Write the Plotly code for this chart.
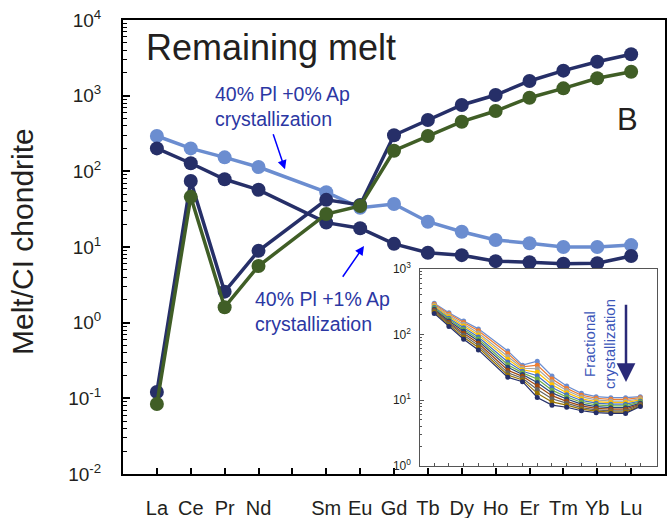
import plotly.graph_objects as go

# ---------------- data ----------------
elements = ["La", "Ce", "Pr", "Nd", "Pm", "Sm", "Eu", "Gd", "Tb", "Dy", "Ho", "Er", "Tm", "Yb", "Lu"]
tick_labels = ["La", "Ce", "Pr", "Nd", "", "Sm", "Eu", "Gd", "Tb", "Dy", "Ho", "Er", "Tm", "Yb", "Lu"]
ree = ["La", "Ce", "Pr", "Nd", "Sm", "Eu", "Gd", "Tb", "Dy", "Ho", "Er", "Tm", "Yb", "Lu"]

melt_0ap = [293, 201, 153, 114, 53, 33, 37, 21.6, 15.9, 12.4, 11.2, 10.0, 10.0, 10.6]
melt_1ap = [201, 128, 78.5, 57, 21, 17.7, 11, 8.4, 7.8, 6.5, 6.3, 6.0, 6.1, 7.6]
cumulate_a = [0.121, 74.5, 2.57, 8.9, 42, 36, 300, 476, 753, 1020, 1563, 2140, 2810, 3520]
cumulate_b = [0.084, 46, 1.6, 5.6, 27.3, 34.8, 187, 293, 453, 627, 940, 1250, 1700, 2075]

y_tick_vals = [0.01, 0.1, 1, 10, 100, 1000, 10000]
y_tick_text = ["10<sup>-2</sup>", "10<sup>-1</sup>", "10<sup>0</sup>", "10<sup>1</sup>",
               "10<sup>2</sup>", "10<sup>3</sup>", "10<sup>4</sup>"]
inset_tick_vals = [1, 10, 100, 1000]
inset_tick_text = ["10<sup>0</sup>", "10<sup>1</sup>", "10<sup>2</sup>", "10<sup>3</sup>"]

inset_series = [
    [296, 213, 160, 121, 56, 34, 39, 23.3, 16.4, 12.7, 11.3, 10.9, 10.9, 11.3],
    [286, 203, 151, 113, 51, 32, 34, 21.0, 15.1, 11.9, 10.7, 10.3, 10.3, 10.9],
    [276, 194, 142, 105, 46, 30.5, 30, 19.0, 14.0, 11.2, 10.1, 9.7, 9.7, 10.5],
    [267, 185, 134, 98, 42, 29, 26.5, 17.2, 13.0, 10.5, 9.5, 9.2, 9.2, 10.1],
    [258, 176, 126, 91, 38, 27.5, 23.5, 15.6, 12.1, 9.9, 9.0, 8.7, 8.7, 9.7],
    [250, 168, 118, 85, 34.5, 26, 21, 14.2, 11.2, 9.3, 8.5, 8.2, 8.2, 9.4],
    [241, 160, 111, 79, 31.5, 24.5, 18.5, 12.9, 10.4, 8.7, 8.0, 7.7, 7.7, 9.0],
    [232, 152, 104, 73, 28.5, 23, 16.5, 11.7, 9.6, 8.2, 7.5, 7.3, 7.3, 8.7],
    [224, 145, 97, 68, 26, 21.5, 14.5, 10.5, 9.0, 7.7, 7.1, 6.9, 6.9, 8.5],
    [216, 138, 90, 63, 24, 20.3, 12.7, 9.4, 8.4, 7.3, 6.8, 6.6, 6.6, 8.2],
    [208, 131, 84, 58, 22.2, 19.1, 11.0, 8.4, 7.8, 6.9, 6.45, 6.3, 6.3, 8.0],
]
inset_colors = ["#6B8DD0", "#ED7D31", "#A5A5A5", "#FFC000", "#4472C4", "#70AD47",
                "#264478", "#9E480E", "#636363", "#997300", "#252F68"]

# ---------------- layout helpers ----------------
W, H = 667, 518
L, R, T, B = 123, 665, 20, 474


def px(x):
    return (x - L) / (R - L)


def py(y):
    return (B - y) / (B - T)


xpos = [elements.index(e) + 1 for e in ree]

FONT = "Liberation Sans, Arial, sans-serif"
LIGHT = "#6B8DD0"
NAVY = "#262F68"
GREEN = "#405E26"

fig = go.Figure()

for vals, col in [(melt_0ap, LIGHT), (melt_1ap, NAVY), (cumulate_a, NAVY), (cumulate_b, GREEN)]:
    fig.add_trace(go.Scatter(x=xpos, y=vals, mode="lines+markers",
                             line=dict(color=col, width=3.5),
                             marker=dict(color=col, size=14),
                             showlegend=False, xaxis="x", yaxis="y"))

for vals, col in zip(inset_series, inset_colors):
    fig.add_trace(go.Scatter(x=xpos, y=vals, mode="lines+markers",
                             line=dict(color=col, width=1.2),
                             marker=dict(color=col, size=5),
                             showlegend=False, xaxis="x2", yaxis="y2"))

minor_vals = [k * 10.0 ** e for e in range(-2, 4) for k in range(2, 10)]
minor_vals2 = [k * 10.0 ** e for e in range(0, 3) for k in range(2, 10)]

fig.update_layout(
    width=W, height=H,
    margin=dict(l=L, r=W - R, t=T, b=H - B),
    paper_bgcolor="white", plot_bgcolor="white",
    font=dict(family=FONT, color="#231F20"),
    xaxis=dict(domain=[0, 1], range=[0, 16], tickmode="array",
               tickvals=list(range(1, 16)), ticktext=tick_labels,
               ticks="inside", ticklen=6, tickwidth=2, tickcolor="black",
               showline=True, linewidth=2, linecolor="black", mirror=True,
               showgrid=False, zeroline=False, tickfont=dict(size=20),
               ticklabelstandoff=15, automargin=False),
    yaxis=dict(domain=[0, 1], type="log", range=[-2, 4], tickmode="array",
               tickvals=y_tick_vals, ticktext=y_tick_text,
               ticks="inside", ticklen=7, tickwidth=1.5, tickcolor="black",
               minor=dict(tickvals=minor_vals, ticks="inside", ticklen=4,
                          tickwidth=1, tickcolor="black", showgrid=False),
               showline=True, linewidth=2, linecolor="black", mirror=True,
               showgrid=False, zeroline=False, tickfont=dict(size=19),
               ticklabelstandoff=16, automargin=False),
    xaxis2=dict(domain=[px(419.5), px(656.5)], anchor="y2", range=[0, 16.1],
                tickmode="array", tickvals=list(range(1, 16)), showticklabels=False,
                ticks="inside", ticklen=3, tickwidth=1, tickcolor="#555",
                showline=True, linewidth=1.3, linecolor="#555", mirror=True,
                showgrid=False, zeroline=False, automargin=False),
    yaxis2=dict(domain=[py(466), py(268.5)], anchor="x2", type="log", range=[0, 3],
                tickmode="array", tickvals=inset_tick_vals, ticktext=inset_tick_text,
                ticks="inside", ticklen=4, tickwidth=1, tickcolor="#555",
                minor=dict(tickvals=minor_vals2, ticks="inside", ticklen=2.5,
                           tickwidth=1, tickcolor="#555", showgrid=False),
                showline=True, linewidth=1.3, linecolor="#555", mirror=True,
                showgrid=False, zeroline=False, tickfont=dict(size=12),
                ticklabelstandoff=5, automargin=False),
)

ann = []


def text(x, y, s, size, color="#231F20", xanchor="center", angle=0, align="center"):
    ann.append(dict(x=px(x), y=py(y), xref="paper", yref="paper", text=s,
                    showarrow=False, xanchor=xanchor, yanchor="middle",
                    textangle=angle, borderpad=0, align=align,
                    font=dict(size=size, color=color, family=FONT)))


def arrow(tip, tail, color, width, head, size):
    ann.append(dict(x=px(tip[0]), y=py(tip[1]), xref="paper", yref="paper",
                    ax=tail[0] - tip[0], ay=tail[1] - tip[1], text="",
                    showarrow=True, arrowhead=head, arrowsize=size,
                    arrowwidth=width, arrowcolor=color))


# Y axis title
text(22, 242, "Melt/CI chondrite", 30, angle=-90)
# Panel texts
text(145, 47, "Remaining melt", 36, xanchor="left")
text(627, 119, "B", 31)
# Blue labels
BLUE_TXT = "#2B37A3"
text(214, 106, "40% Pl +0% Ap<br>crystallization", 19.5, BLUE_TXT, xanchor="left", align="left")
text(254, 311, "40% Pl +1% Ap<br>crystallization", 19.5, BLUE_TXT, xanchor="left", align="left")
arrow((285, 169.3), (272.7, 132.7), "#0000FF", 1.5, 2, 1.2)
arrow((364, 246), (341.7, 278.3), "#0000FF", 1.5, 2, 1.2)
# Inset text and arrow
text(599, 344, "Fractional<br>crystallization", 15, "#3B56B8", angle=-90)
arrow((626, 382), (626, 303.3), "#2A2A78", 2.5, 2, 1.5)

fig.update_layout(annotations=ann)

fig.write_html("out.html")
